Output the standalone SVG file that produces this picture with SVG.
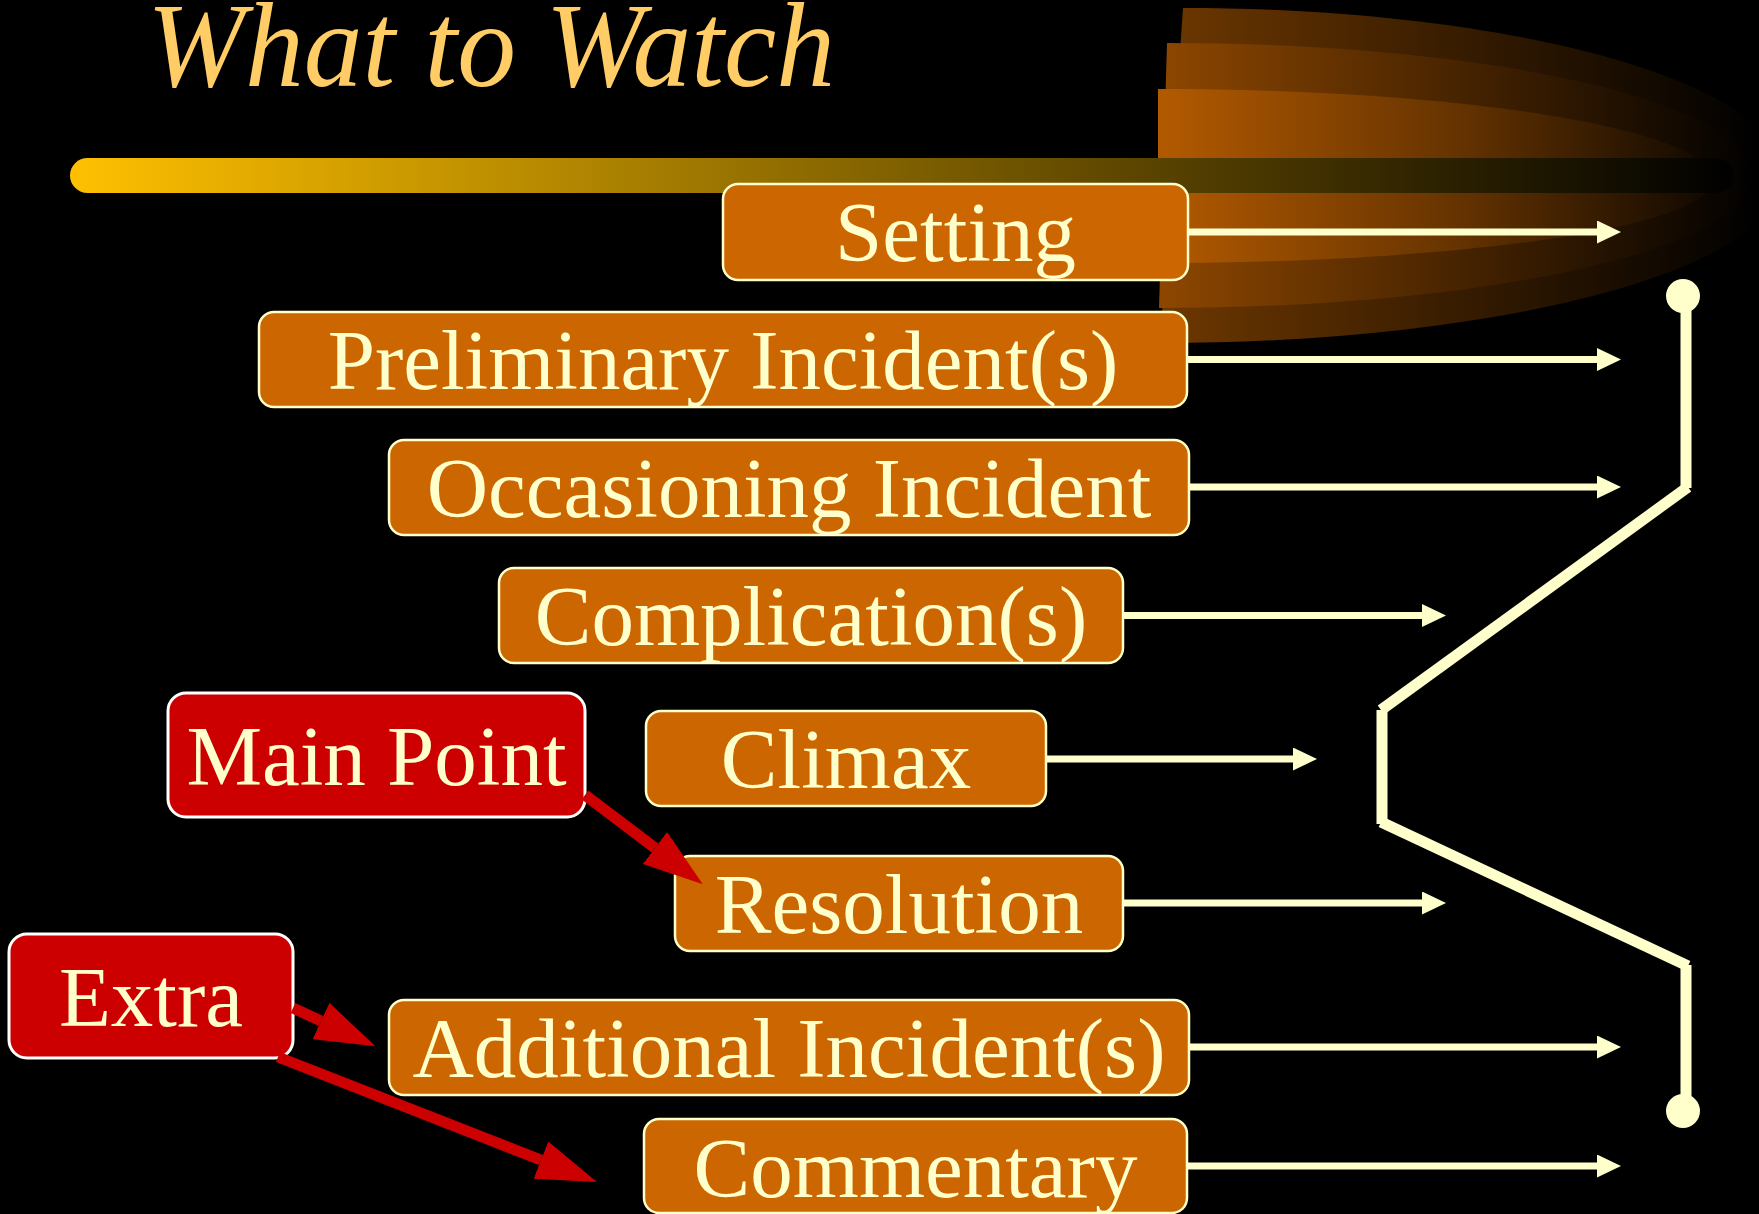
<svg xmlns="http://www.w3.org/2000/svg" width="1759" height="1214" viewBox="0 0 1759 1214">
<defs>
<linearGradient id="barG" gradientUnits="userSpaceOnUse" x1="70" y1="0" x2="1733" y2="0">
<stop offset="0" stop-color="#FFC000"/><stop offset="1" stop-color="#000000"/>
</linearGradient>
<linearGradient id="fan1" gradientUnits="userSpaceOnUse" x1="1158" y1="0" x2="1760" y2="0">
<stop offset="0" stop-color="#6E3800"/><stop offset="1" stop-color="#000000"/>
</linearGradient>
<linearGradient id="fan2" gradientUnits="userSpaceOnUse" x1="1158" y1="0" x2="1760" y2="0">
<stop offset="0" stop-color="#8E4700"/><stop offset="1" stop-color="#000000"/>
</linearGradient>
<linearGradient id="fan3" gradientUnits="userSpaceOnUse" x1="1158" y1="0" x2="1760" y2="0">
<stop offset="0" stop-color="#B35A00"/><stop offset="0.5" stop-color="#653300"/><stop offset="1" stop-color="#000000"/>
</linearGradient>
<marker id="wArrow" markerUnits="userSpaceOnUse" markerWidth="24" markerHeight="23" refX="0" refY="11.5" orient="auto">
<path d="M0,0 L24,11.5 L0,23 Z" fill="#FFFFCC"/>
</marker>
<marker id="rArrow" markerUnits="userSpaceOnUse" markerWidth="60" markerHeight="40" refX="0" refY="20" orient="auto">
<path d="M0,0 L60,20 L0,40 Z" fill="#CC0000"/>
</marker>
</defs>
<style>
.box{fill:#CC6600;stroke:#FFFFCC;stroke-width:2.5}
.red{fill:#CC0000;stroke:#FFFFFF;stroke-width:3}
.lbl{font-family:"Liberation Serif","Times New Roman",serif;font-size:85px;fill:#FFFFCC;text-anchor:middle}
.wline{stroke:#FFFFCC;stroke-width:7;fill:none;marker-end:url(#wArrow)}
.rline{stroke:#CC0000;stroke-width:11;fill:none;marker-end:url(#rArrow)}
.zig{stroke:#FFFFCC;stroke-width:11;fill:none;stroke-linecap:butt}
</style>
<rect x="0" y="0" width="1759" height="1214" fill="#000000"/>
<g id="decoration">
<path d="M1183,8 C1514,8 1783,83 1783,175.5 C1783,268 1504,343 1160,343 Z" fill="url(#fan1)"/>
<path d="M1167,43 C1490,43 1752,102 1752,175.5 C1752,249 1487,308 1159,308 Z" fill="url(#fan2)"/>
<path d="M1158,89 C1456,89 1712,128 1712,180 C1712,228 1456,263 1158,263 Z" fill="url(#fan3)"/>
<rect x="70" y="158" width="1663" height="35" rx="17.5" fill="url(#barG)"/>
</g>
<text id="title" x="147" y="86" font-family="'Liberation Serif','Times New Roman',serif" font-style="italic" font-size="120" fill="#FFCC66" textLength="688" lengthAdjust="spacingAndGlyphs">What to Watch</text>
<g id="n-setting"><rect class="box" x="723" y="184" width="465" height="96" rx="15"/><text class="lbl" x="955.5" y="261">Setting</text></g>
<g id="n-preliminary"><rect class="box" x="259" y="312" width="928" height="95" rx="15"/><text class="lbl" x="723" y="389">Preliminary Incident(s)</text></g>
<g id="n-occasioning"><rect class="box" x="389" y="440" width="800" height="95" rx="15"/><text class="lbl" x="789" y="517">Occasioning Incident</text></g>
<g id="n-complication"><rect class="box" x="499" y="568" width="624" height="95" rx="15"/><text class="lbl" x="811" y="645">Complication(s)</text></g>
<g id="n-climax"><rect class="box" x="646" y="711" width="400" height="95" rx="15"/><text class="lbl" x="846" y="788">Climax</text></g>
<g id="n-resolution"><rect class="box" x="675" y="856" width="448" height="95" rx="15"/><text class="lbl" x="899" y="933">Resolution</text></g>
<g id="n-additional"><rect class="box" x="389" y="1000" width="800" height="95" rx="15"/><text class="lbl" x="789" y="1077">Additional Incident(s)</text></g>
<g id="n-commentary"><rect class="box" x="644" y="1119" width="543" height="94" rx="15"/><text class="lbl" x="915.5" y="1197">Commentary</text></g>
<g id="n-mainpoint"><rect class="red" x="168" y="693" width="417" height="124" rx="18"/><text class="lbl" x="376.5" y="785">Main Point</text></g>
<g id="n-extra"><rect class="red" x="9" y="934" width="284" height="124" rx="18"/><text class="lbl" x="151" y="1026">Extra</text></g>
<g id="connectors">
<line class="wline" x1="1189" y1="232" x2="1597" y2="232"/>
<line class="wline" x1="1188" y1="359.5" x2="1597" y2="359.5"/>
<line class="wline" x1="1190" y1="487" x2="1597" y2="487"/>
<line class="wline" x1="1124" y1="615.5" x2="1422" y2="615.5"/>
<line class="wline" x1="1047" y1="759" x2="1293" y2="759"/>
<line class="wline" x1="1124" y1="903" x2="1422" y2="903"/>
<line class="wline" x1="1190" y1="1047" x2="1597" y2="1047"/>
<line class="wline" x1="1188" y1="1166" x2="1597" y2="1166"/>
<line class="rline" x1="585" y1="795" x2="655" y2="848"/>
<line class="rline" x1="293" y1="1008" x2="321" y2="1021"/>
<line class="rline" x1="278" y1="1057" x2="541" y2="1160"/>
<g id="timeline">
<circle cx="1683" cy="296" r="17" fill="#FFFFCC"/>
<line class="zig" x1="1686" y1="296" x2="1686" y2="488"/>
<line class="zig" x1="1688" y1="487" x2="1381" y2="710"/>
<line class="zig" x1="1382" y1="710" x2="1382" y2="824"/>
<line class="zig" x1="1381" y1="822" x2="1688" y2="966"/>
<line class="zig" x1="1686" y1="965" x2="1686" y2="1111"/>
<circle cx="1683" cy="1111" r="17" fill="#FFFFCC"/>
</g>
</g>
</svg>
